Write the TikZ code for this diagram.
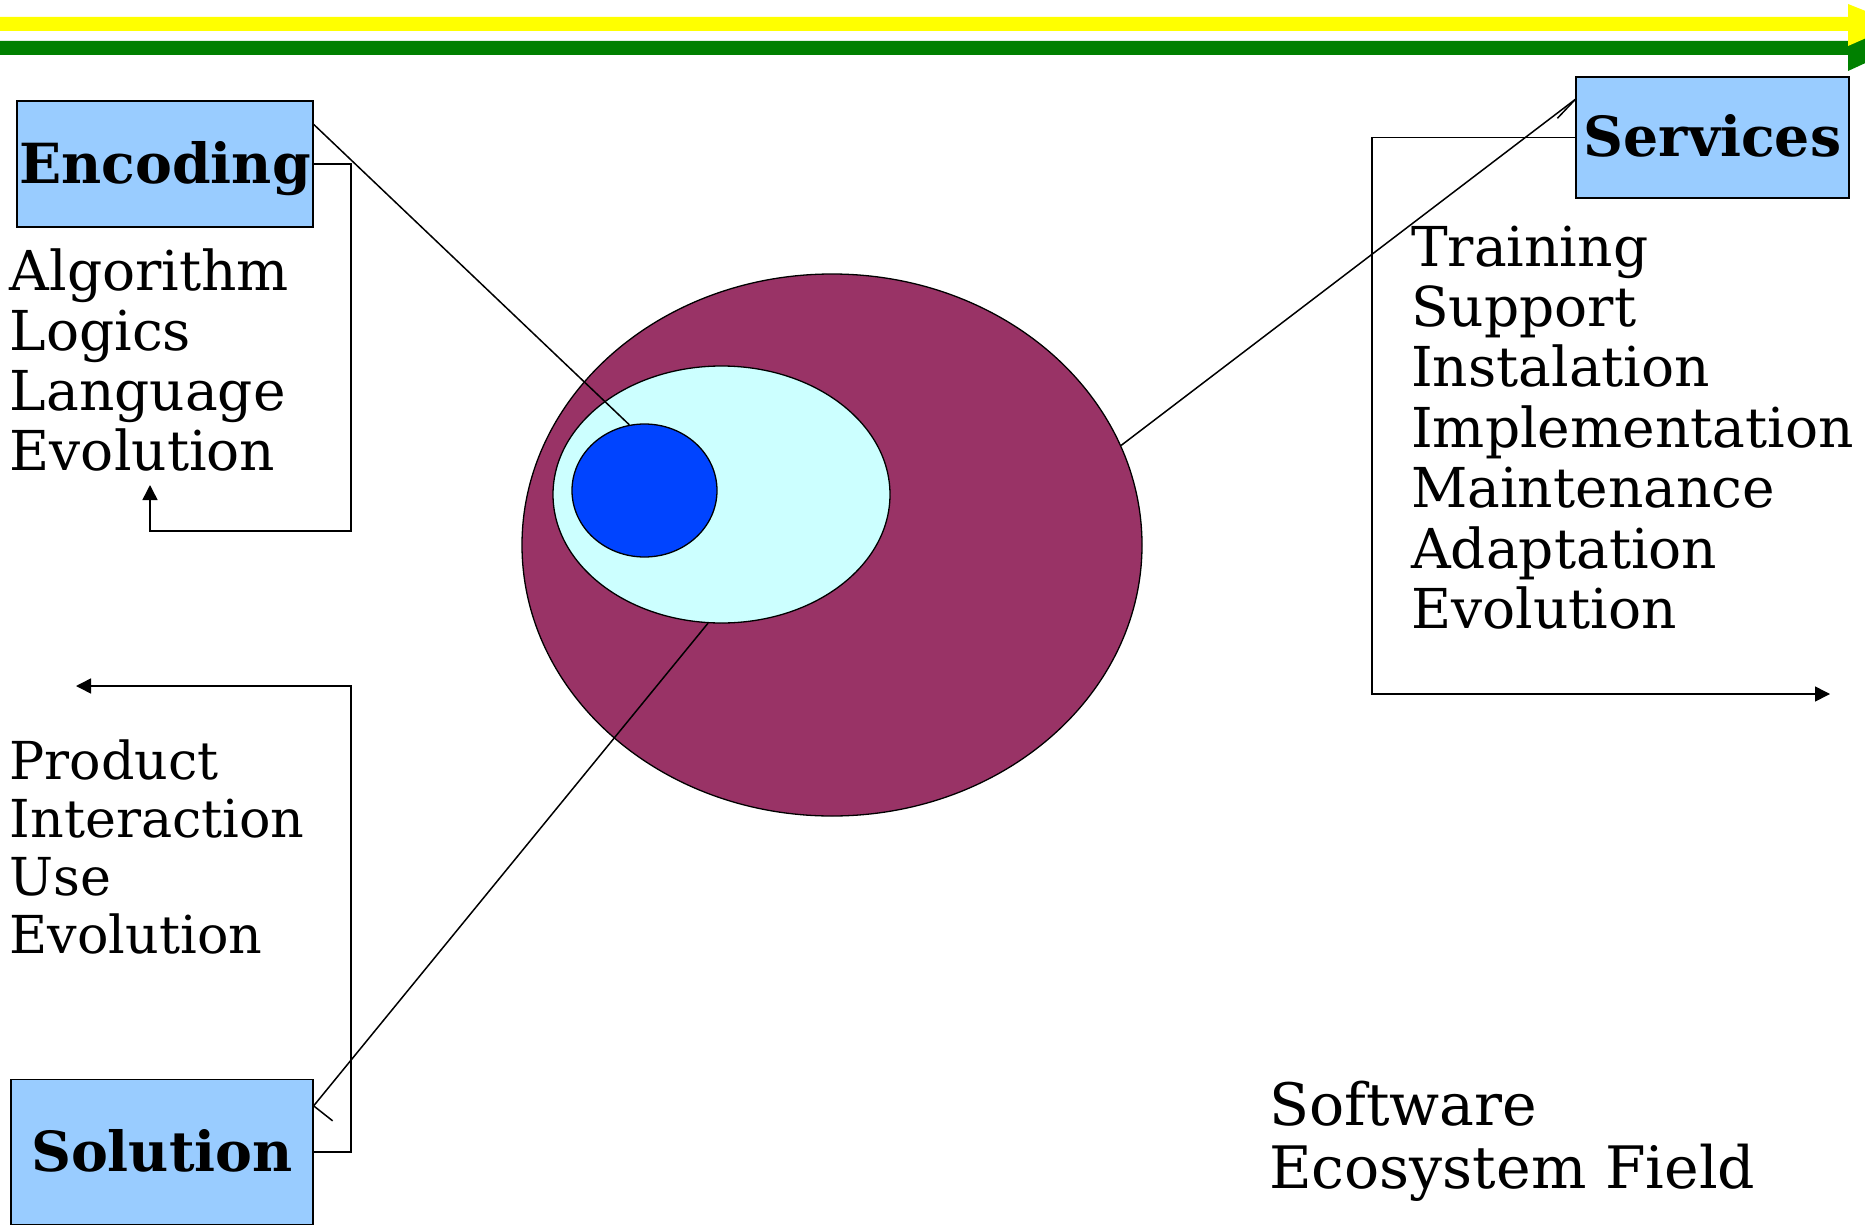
\documentclass[tikz,border=0pt]{standalone}
\usepackage{fontspec}
\setmainfont{DejaVu Serif}
\usetikzlibrary{arrows.meta,calc,shapes.geometric}
\definecolor{boxblue}{HTML}{99CCFF}
\definecolor{outercol}{HTML}{993366}
\definecolor{midcol}{HTML}{CCFFFF}
\definecolor{innercol}{HTML}{0044FF}
\definecolor{bandyellow}{HTML}{FFFF00}
\definecolor{bandgreen}{HTML}{008000}
\begin{document}
\begin{tikzpicture}[x=1pt,y=-1pt,
  box/.style={draw=black, line width=1.3pt, fill=boxblue, inner sep=0pt,
    text height=41pt, text depth=2pt, font=\fontsize{55.3}{60}\selectfont\bfseries},
  conn/.style={line width=1.5pt, draw=black},
  arr/.style={conn, -{Triangle[length=15pt,width=15pt]}},
  lst/.style={anchor=base west, inner sep=0pt},
  blob/.style={ellipse, draw=black, line width=1.3pt, inner sep=0pt}]

\useasboundingbox (0,0) rectangle (1865,1225);

% top bands
\fill[bandgreen] (0,41) -- (1848,41) -- (1848,26) -- (1898,48) -- (1848,71) -- (1848,55) -- (0,55) -- cycle;
\fill[bandyellow] (0,17) -- (1848,17) -- (1848,4) -- (1898,24) -- (1848,46) -- (1848,31) -- (0,31) -- cycle;

% ellipses
\node[blob, fill=outercol, minimum width=620pt, minimum height=542pt] (outer) at (832,545) {};
\node[blob, fill=midcol, minimum width=337pt, minimum height=257pt] (mid) at (721.5,494.5) {};
\node[blob, fill=innercol, minimum width=145pt, minimum height=133pt] (inner) at (644.5,490.5) {};

% boxes
\node[box, minimum width=296pt, minimum height=126pt] (enc) at (165,164) {Encoding};
\node[box, minimum width=273pt, minimum height=121pt] (ser) at (1712.5,137.5) {Services};
\node[box, minimum width=302pt, minimum height=145pt] (sol) at (162,1152) {Solution};

% lists
\node[lst] (enclist) at (9.5,290) {\fontsize{55}{60}\selectfont\begin{tabular}[t]{@{}l@{}}Algorithm\\Logics\\Language\\Evolution\end{tabular}};
\node[lst] (serlist) at (1411,266) {\fontsize{55}{60.4}\selectfont\begin{tabular}[t]{@{}l@{}}Training\\Support\\Instalation\\Implementation\\Maintenance\\Adaptation\\Evolution\end{tabular}};
\node[lst] (sollist) at (9.5,779) {\fontsize{52.3}{58}\selectfont\begin{tabular}[t]{@{}l@{}}Product\\Interaction\\Use\\Evolution\end{tabular}};
\node[lst] (field) at (1269,1125) {\fontsize{58.5}{62}\selectfont\begin{tabular}[t]{@{}l@{}}Software\\Ecosystem Field\end{tabular}};

% free ends
\coordinate (encend) at (150,485);
\coordinate (serend) at (1830,694);
\coordinate (solend) at (76,686);

% elbow connectors
\draw[arr] (enc.east) -- (351,164) -- (351,531) -- (150,531) -- (encend);
\draw[arr] (ser.west) -- (1372,137.5) -- (1372,694) -- (serend);
\draw[arr] (sol.east) -- (351,1152) -- (351,686) -- (solend);

% diagonal connectors
\coordinate (encA) at ($(enc.north east)+(0,24)$);
\coordinate (serA) at ($(ser.north west)+(0,23)$);
\coordinate (solA) at ($(sol.north east)+(0,27)$);
\draw[conn] (encA) -- (inner.103);
\draw[conn] (serA) -- (outer.19);
\draw[conn] (solA) -- (mid.264);
\draw[conn] (serA) -- ++(-18,19);
\draw[conn] (solA) -- ++(19,15);
\end{tikzpicture}
\end{document}
